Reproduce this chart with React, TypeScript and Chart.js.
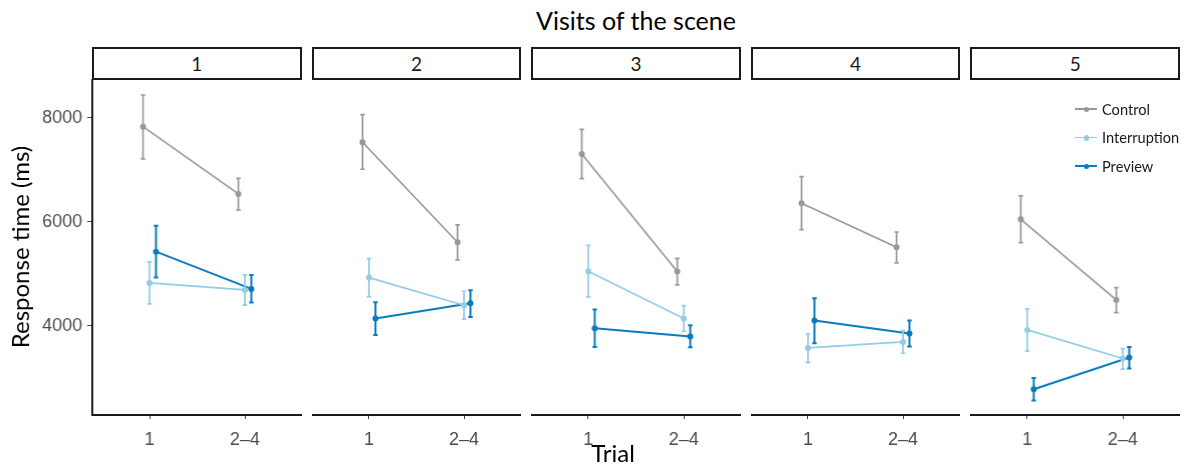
import React, { useEffect, useRef } from "react";
import { Chart, registerables } from "chart.js";
Chart.register(...registerables);

// ---------- data ----------
const PANELS = ["1", "2", "3", "4", "5"];
const TRIALS = ["1", "2–4"];
const SERIES_NAMES = ["Control", "Interruption", "Preview"];
const Y_TICKS = [4000, 6000, 8000];

const CONTROL_MEAN = [[7827, 6533], [7527, 5603], [7302, 5039], [6353, 5507], [6045, 4494]];
const CONTROL_LOW = [[7206, 6225], [7008, 5263], [6827, 4782], [5846, 5205], [5596, 4250]];
const CONTROL_HIGH = [[8436, 6834], [8058, 5937], [7776, 5295], [6866, 5801], [6494, 4731]];

const INTERRUPTION_MEAN = [[4821, 4686], [4923, 4392], [5045, 4135], [3571, 3686], [3917, 3366]];
const INTERRUPTION_LOW = [[4417, 4392], [4558, 4123], [4551, 3891], [3289, 3468], [3507, 3161]];
const INTERRUPTION_HIGH = [[5225, 4975], [5289, 4661], [5545, 4385], [3840, 3904], [4321, 3558]];

const PREVIEW_MEAN = [[5423, 4706], [4135, 4430], [3949, 3789], [4097, 3846], [2776, 3385]];
const PREVIEW_LOW = [[4923, 4442], [3821, 4167], [3590, 3584], [3661, 3596], [2558, 3173]];
const PREVIEW_HIGH = [[5923, 4975], [4449, 4680], [4308, 4007], [4526, 4097], [2994, 3590]];

// ---------- styling / layout ----------
const COLORS = ["#999999", "#93cce6", "#0a7bbd"];
const DODGE = [-0.068, 0, 0.068];
const Y_MIN = 2280;
const Y_MAX = 8744;

const FONT = "Lato, 'Noto Sans', sans-serif";
const TICK_FONT = "'Liberation Sans', Arial, sans-serif";
const W = 1186;
const H = 468;
const PLOT_LEFT = 92;
const PLOT_RIGHT = 1180;
const GAP = 10;
const PANEL_W = (PLOT_RIGHT - PLOT_LEFT - GAP * 4) / 5;
const STRIP_TOP = 47;
const PLOT_TOP = 79;
const PLOT_BOTTOM = 415;
const XAXIS_H = 42;

const SERIES = [
  { mean: CONTROL_MEAN, low: CONTROL_LOW, high: CONTROL_HIGH },
  { mean: INTERRUPTION_MEAN, low: INTERRUPTION_LOW, high: INTERRUPTION_HIGH },
  { mean: PREVIEW_MEAN, low: PREVIEW_LOW, high: PREVIEW_HIGH },
];

const errorBarPlugin = {
  id: "errorBars",
  afterDatasetsDraw(chart: any) {
    const ctx = chart.ctx;
    const yScale = chart.scales.y;
    chart.data.datasets.forEach((ds: any, di: number) => {
      const meta = chart.getDatasetMeta(di);
      ctx.save();
      ctx.strokeStyle = ds.borderColor;
      ctx.lineWidth = di === 2 ? 2 : 1.7;
      meta.data.forEach((pt: any, i: number) => {
        const x = pt.x;
        const yl = yScale.getPixelForValue(ds.errLow[i]);
        const yh = yScale.getPixelForValue(ds.errHigh[i]);
        ctx.beginPath();
        ctx.moveTo(x, yl);
        ctx.lineTo(x, yh);
        ctx.moveTo(x - 2.2, yl);
        ctx.lineTo(x + 2.2, yl);
        ctx.moveTo(x - 2.2, yh);
        ctx.lineTo(x + 2.2, yh);
        ctx.stroke();
      });
      ctx.restore();
    });
  },
};

function Panel({ index }: { index: number }) {
  const ref = useRef<HTMLCanvasElement | null>(null);
  const showY = index === 0;
  const panelLeft = PLOT_LEFT + index * (PANEL_W + GAP);
  const canvasLeft = showY ? 0 : panelLeft;
  const canvasW = showY ? PLOT_LEFT + PANEL_W : PANEL_W;
  const canvasH = PLOT_BOTTOM - PLOT_TOP + XAXIS_H;

  useEffect(() => {
    if (!ref.current) return;
    const chart = new Chart(ref.current, {
      type: "line",
      data: {
        datasets: SERIES.map((s, si) => ({
          label: SERIES_NAMES[si],
          data: TRIALS.map((_, ti) => ({ x: ti + 1 + DODGE[si], y: s.mean[index][ti] })),
          errLow: s.low[index],
          errHigh: s.high[index],
          borderColor: COLORS[si],
          backgroundColor: COLORS[si],
          pointBackgroundColor: COLORS[si],
          pointBorderWidth: 0,
          pointRadius: 3,
          borderWidth: si === 2 ? 2 : 1.7,
          tension: 0,
        })) as any,
      },
      options: {
        animation: false,
        responsive: false,
        maintainAspectRatio: false,
        events: [],
        layout: { padding: 0, autoPadding: false },
        plugins: { legend: { display: false }, tooltip: { enabled: false } },
        scales: {
          x: {
            type: "linear",
            min: 0.4,
            max: 2.6,
            afterBuildTicks: (s: any) => {
              s.ticks = TRIALS.map((_, i) => ({ value: i + 1 }));
            },
            afterFit: (s: any) => {
              s.height = XAXIS_H;
              s.paddingLeft = 0;
              s.paddingRight = 0;
            },
            ticks: {
              callback: (v: any) => TRIALS[Math.round(Number(v)) - 1] ?? "",
              font: { family: TICK_FONT, size: 18 },
              color: "#4d4d4d",
              padding: 10,
              maxRotation: 0,
              autoSkip: false,
            },
            grid: { drawOnChartArea: false, drawTicks: true, tickLength: 4, color: "#444", lineWidth: 1 },
            border: { display: true, color: "#1a1a1a", width: 2 },
          },
          y: {
            type: "linear",
            display: showY,
            min: Y_MIN,
            max: Y_MAX,
            afterBuildTicks: (s: any) => {
              s.ticks = Y_TICKS.map((v) => ({ value: v }));
            },
            afterFit: (s: any) => {
              s.width = showY ? PLOT_LEFT : 0;
              s.paddingTop = 0;
              s.paddingBottom = 0;
            },
            ticks: {
              font: { family: TICK_FONT, size: 18 },
              color: "#4d4d4d",
              padding: 5,
              callback: (v: any) => String(v),
            },
            grid: { drawOnChartArea: false, drawTicks: true, tickLength: 5, color: "#444", lineWidth: 1 },
            border: { display: true, color: "#1a1a1a", width: 2 },
            title: {
              display: true,
              text: "Response time (ms)",
              font: { family: FONT, size: 24 },
              color: "#000",
              padding: { top: 7, bottom: 0 },
            },
          },
        },
      } as any,
      plugins: [errorBarPlugin],
    });
    return () => chart.destroy();
  }, [index]);

  return (
    <>
      <div
        style={{
          position: "absolute",
          left: panelLeft,
          top: STRIP_TOP,
          width: PANEL_W,
          height: PLOT_TOP - STRIP_TOP + 1,
          boxSizing: "border-box",
          border: "2px solid #1a1a1a",
          display: "flex",
          alignItems: "center",
          justifyContent: "center",
          fontFamily: FONT,
          fontSize: 19,
          color: "#1a1a1a",
          background: "#fff",
        }}
      >
        {PANELS[index]}
      </div>
      <canvas
        ref={ref}
        width={canvasW}
        height={canvasH}
        style={{ position: "absolute", left: canvasLeft, top: PLOT_TOP, width: canvasW, height: canvasH }}
      />
    </>
  );
}

function Legend() {
  return (
    <div style={{ position: "absolute", left: 1075, top: 95, fontFamily: FONT, fontSize: 14.6, color: "#1a1a1a" }}>
      {SERIES_NAMES.map((name, i) => (
        <div key={name} style={{ display: "flex", alignItems: "center", height: 28.5 }}>
          <div style={{ position: "relative", width: 22, height: 10, marginRight: 5 }}>
            <div style={{ position: "absolute", left: 0, top: 4, width: 22, height: i === 2 ? 2 : 1.7, background: COLORS[i] }} />
            <div
              style={{
                position: "absolute",
                left: 8.5,
                top: 2.3,
                width: 5.6,
                height: 5.6,
                borderRadius: "50%",
                background: COLORS[i],
              }}
            />
          </div>
          <span>{name}</span>
        </div>
      ))}
    </div>
  );
}

export default function App() {
  return (
    <div style={{ position: "absolute", left: 0, top: 0, width: W, height: H, background: "#fff", overflow: "hidden" }}>
      <div
        style={{
          position: "absolute",
          left: PLOT_LEFT,
          width: PLOT_RIGHT - PLOT_LEFT,
          top: 5,
          textAlign: "center",
          fontFamily: FONT,
          fontSize: 25,
          color: "#000",
        }}
      >
        Visits of the scene
      </div>
      {PANELS.map((_, i) => (
        <Panel key={i} index={i} />
      ))}
      <Legend />
      <div
        style={{
          position: "absolute",
          left: 0,
          width: 1226,
          top: 438,
          textAlign: "center",
          fontFamily: FONT,
          fontSize: 24,
          color: "#000",
        }}
      >
        Trial
      </div>
    </div>
  );
}
